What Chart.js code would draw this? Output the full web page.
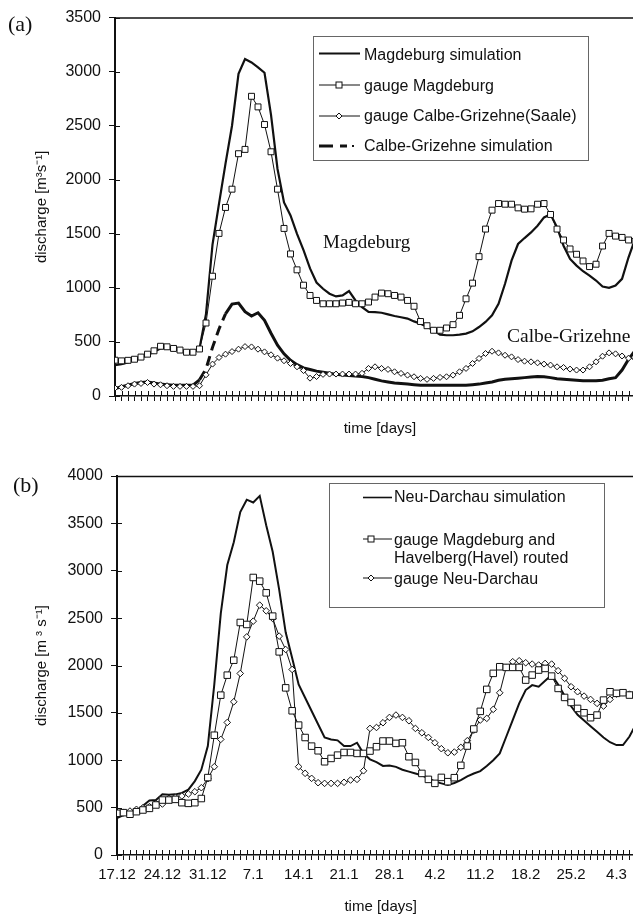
<!DOCTYPE html>
<html><head><meta charset="utf-8">
<script src="https://cdn.jsdelivr.net/npm/chart.js@4/dist/chart.umd.min.js"></script>
<style>
html,body{margin:0;padding:0;background:#fff;overflow:hidden;width:633px;height:914px;position:relative}
.wrap{position:absolute;left:0;width:633px;overflow:hidden}
#wrapA{top:0;height:445px}
#wrapB{top:450px;height:464px}
.lbl{position:absolute;white-space:nowrap;line-height:1;color:#111}
.sans{font-family:"Liberation Sans",Arial,sans-serif;font-size:16px}
.serif{font-family:"Liberation Serif","Times New Roman",serif}
#overlay{position:absolute;left:0;top:0;width:633px;height:914px;pointer-events:none}
</style></head><body>
<div class="wrap" id="wrapA"><canvas id="cA" width="650" height="445"></canvas></div>
<div class="wrap" id="wrapB"><canvas id="cB" width="650" height="464"></canvas></div>

<svg id="overlay" width="633" height="914" xmlns="http://www.w3.org/2000/svg">
  <!-- legend (a) -->
  <rect x="313.5" y="36.5" width="275" height="124" fill="#fff" stroke="#666" stroke-width="1"/>
  <line x1="319" y1="53.5" x2="360" y2="53.5" stroke="#111" stroke-width="2.2"/>
  <line x1="319" y1="85" x2="360" y2="85" stroke="#111" stroke-width="1"/>
  <rect x="336" y="82" width="6" height="6" fill="#fff" stroke="#111" stroke-width="1"/>
  <line x1="319" y1="116" x2="360" y2="116" stroke="#111" stroke-width="1"/>
  <polygon points="339,113 342,116 339,119 336,116" fill="#fff" stroke="#111" stroke-width="1"/>
  <line x1="319" y1="146" x2="333" y2="146" stroke="#111" stroke-width="3"/>
  <line x1="340" y1="146" x2="347" y2="146" stroke="#111" stroke-width="3"/>
  <line x1="352" y1="146" x2="354" y2="146" stroke="#111" stroke-width="2"/>
  <!-- legend (b) -->
  <rect x="329.5" y="483.5" width="275" height="124" fill="#fff" stroke="#666" stroke-width="1"/>
  <line x1="363" y1="497.5" x2="392" y2="497.5" stroke="#111" stroke-width="1.6"/>
  <line x1="363" y1="539" x2="392" y2="539" stroke="#111" stroke-width="1"/>
  <rect x="368" y="536" width="6" height="6" fill="#fff" stroke="#111" stroke-width="1"/>
  <line x1="363" y1="578" x2="392" y2="578" stroke="#111" stroke-width="1"/>
  <polygon points="371,575 374,578 371,581 368,578" fill="#fff" stroke="#111" stroke-width="1"/>
</svg>

<div class="lbl serif" style="left:8px;top:13px;font-size:22px">(a)</div>
<div class="lbl serif" style="left:13px;top:474px;font-size:22px">(b)</div>
<div class="lbl sans" style="left:364px;top:46.5px">Magdeburg simulation</div>
<div class="lbl sans" style="left:364px;top:78px">gauge Magdeburg</div>
<div class="lbl sans" style="left:364px;top:108px">gauge Calbe-Grizehne(Saale)</div>
<div class="lbl sans" style="left:364px;top:138px">Calbe-Grizehne simulation</div>
<div class="lbl sans" style="left:394px;top:489px">Neu-Darchau simulation</div>
<div class="lbl sans" style="left:394px;top:531.5px">gauge Magdeburg and</div>
<div class="lbl sans" style="left:394px;top:550px">Havelberg(Havel) routed</div>
<div class="lbl sans" style="left:394px;top:570.5px">gauge Neu-Darchau</div>
<div class="lbl serif" style="left:323px;top:231.5px;font-size:19px">Magdeburg</div>
<div class="lbl serif" style="left:507px;top:326px;font-size:19.5px">Calbe-Grizehne</div>

<script>
// ---------- data ----------
const weekLabels = ['17.12','24.12','31.12','7.1','14.1','21.1','28.1','4.2','11.2','18.2','25.2','4.3'];
const yTicksA = [0,500,1000,1500,2000,2500,3000,3500];
const yTicksB = [0,500,1000,1500,2000,2500,3000,3500,4000];

// panel (a), daily values from 17.12
const magdeburgSim = [285,295,310,330,350,380,410,440,445,435,420,405,410,440,760,1400,1780,2150,2500,2980,3116,3085,3040,2990,2600,2100,1790,1670,1500,1350,1180,1050,992,946,921,930,970,884,822,777,775,770,755,740,728,716,690,669,640,608,568,562,562,568,577,598,638,685,746,853,1038,1252,1406,1461,1513,1575,1652,1682,1559,1390,1268,1206,1154,1114,1068,1013,1001,1022,1084,1283,1450];
const magdeburgGauge = [331,325,330,340,360,387,418,460,455,440,425,405,405,435,675,1108,1504,1744,1913,2241,2281,2772,2674,2511,2259,1913,1550,1314,1167,1025,930,884,853,853,853,860,866,853,853,869,915,952,946,930,915,884,830,689,650,608,608,629,660,746,899,1044,1289,1544,1719,1780,1774,1774,1740,1728,1731,1774,1780,1679,1544,1443,1360,1311,1249,1197,1219,1387,1504,1479,1467,1443,1430];
const calbeGauge = [74,80,95,110,116,125,110,104,95,89,89,89,89,95,196,295,356,387,411,433,457,454,433,408,381,350,326,301,270,235,165,180,200,203,203,203,203,203,210,255,270,255,246,224,209,193,178,163,154,163,172,178,193,224,255,301,347,393,414,399,377,362,337,322,316,307,295,286,270,264,249,240,240,270,316,368,399,390,370,350,345];
const calbeSim = [70,85,100,115,125,130,120,110,105,100,100,100,100,150,250,450,620,760,850,860,780,740,770,700,580,470,390,330,290,260,245,230,220,210,200,195,190,185,180,170,155,140,130,120,115,110,105,100,100,100,100,100,100,100,100,105,110,120,130,145,155,160,165,170,175,180,178,170,160,155,150,145,140,140,140,145,160,170,240,340,420];

// panel (b)
const neuDarchauSim = [390,420,440,460,520,575,580,640,635,640,655,690,780,900,1150,1800,2550,3060,3300,3620,3750,3720,3790,3480,3200,2800,2350,2080,1800,1660,1520,1380,1240,1220,1210,1150,1150,1185,1070,1010,980,940,945,930,900,880,860,840,810,775,756,738,760,790,830,860,885,940,1000,1072,1248,1424,1600,1741,1793,1776,1840,1899,1800,1680,1570,1480,1420,1360,1300,1240,1190,1160,1160,1250,1380];
const magHavelRouted = [440,447,430,457,475,492,528,580,580,587,552,545,552,596,817,1264,1687,1898,2056,2454,2433,2929,2890,2767,2521,2144,1764,1522,1371,1240,1149,1100,984,1019,1054,1082,1082,1072,1072,1097,1143,1203,1203,1178,1185,1037,977,861,798,756,819,774,816,946,1150,1330,1516,1748,1917,1987,1980,1980,1980,1846,1899,1952,1969,1888,1758,1663,1610,1547,1501,1449,1477,1635,1723,1706,1713,1688,1690];
const neuDarchauGauge = [440,447,464,482,499,510,545,538,598,609,623,644,668,710,805,932,1220,1399,1617,1916,2302,2468,2637,2577,2496,2310,2169,1958,932,862,809,763,756,756,756,767,791,798,889,1336,1346,1396,1452,1477,1452,1417,1336,1290,1241,1185,1122,1079,1086,1136,1206,1318,1424,1442,1537,1712,1980,2040,2050,2029,2015,2005,2022,2015,1945,1864,1776,1723,1677,1642,1600,1572,1642,1698,1712,1698,1690];

const days = magdeburgSim.map((_, i) => i);
const tickDays = Array.from({length: 83}, (_, i) => i);
const DASH_FROM = 13, DASH_TO = 17;

// ---------- style ----------
const INK = '#111';
const FONT = '"Liberation Sans", Arial, sans-serif';
Chart.defaults.font.family = FONT;
Chart.defaults.color = INK;

function series(values) { return values.map((v, i) => ({x: days[i], y: v})); }

const frame = {
  id: 'frame',
  afterDraw(chart) {
    const {ctx, chartArea: a, scales: {x, y}} = chart;
    ctx.save();
    ctx.strokeStyle = INK;
    ctx.lineWidth = 1;
    ctx.beginPath();
    x.ticks.forEach(t => {
      const px = Math.round(x.getPixelForValue(t.value)) + 0.5;
      if (px > a.right) return;
      ctx.moveTo(px, a.bottom); ctx.lineTo(px, a.bottom - 5);
    });
    y.ticks.forEach(t => {
      const py = Math.round(y.getPixelForValue(t.value)) + 0.5;
      ctx.moveTo(a.left, py); ctx.lineTo(a.left + 5, py);
    });
    ctx.stroke();
    ctx.lineWidth = 1.5;
    ctx.beginPath();
    ctx.moveTo(a.left, a.top + 0.5); ctx.lineTo(a.right + 3, a.top + 0.5);
    ctx.stroke();
    ctx.restore();
  }
};

function options(cfg) {
  return {
    responsive: false, animation: false, devicePixelRatio: 1,
    layout: {padding: {top: cfg.top, right: 3, left: 0, bottom: 0}},
    plugins: {legend: {display: false}, tooltip: {enabled: false}},
    scales: {
      x: {
        type: 'linear', min: 0, max: cfg.xMax,
        afterFit: s => { s.height = cfg.xH; },
        afterBuildTicks: s => { s.ticks = tickDays.filter(d => d <= cfg.xMax).map(v => ({value: v})); },
        border: {color: INK, width: 1.5},
        grid: {drawOnChartArea: false, drawTicks: true, tickLength: 5, color: INK, tickColor: INK},
        ticks: {autoSkip: false, maxRotation: 0, minRotation: 0, padding: cfg.xPad, color: INK,
                font: {family: FONT, size: 15},
                callback: v => (cfg.showX && v % 7 === 0 && weekLabels[v / 7]) ? weekLabels[v / 7] : ''},
        title: {display: true, text: 'time [days]', color: INK, font: {family: FONT, size: 15, lineHeight: 1},
                padding: {top: 0, bottom: cfg.xTitlePad}}
      },
      y: {
        min: 0, max: cfg.yMax,
        afterFit: s => { s.width = cfg.left; },
        afterBuildTicks: s => { s.ticks = cfg.yTicks.map(v => ({value: v})); },
        border: {color: INK, width: 2},
        grid: {drawOnChartArea: false, drawTicks: true, tickLength: 6, color: INK, tickColor: INK},
        ticks: {padding: 8, color: INK, font: {family: FONT, size: 16}, callback: v => String(v)},
        title: {display: true, text: cfg.yTitle, color: INK, font: {family: FONT, size: 15, lineHeight: 1},
                padding: {top: cfg.yTitlePad, bottom: 0}}
      }
    }
  };
}

const thin = {borderColor: INK, borderWidth: 1, pointBackgroundColor: '#fff', pointBorderColor: INK, pointBorderWidth: 1, tension: 0, fill: false};

new Chart(document.getElementById('cA'), {
  type: 'line',
  data: {datasets: [
    Object.assign({label: 'gauge Magdeburg', data: series(magdeburgGauge), pointStyle: 'rect', pointRadius: 4.2, order: 1}, thin),
    Object.assign({label: 'gauge Calbe-Grizehne(Saale)', data: series(calbeGauge), pointStyle: 'rectRot', pointRadius: 3, order: 2}, thin),
    {label: 'Magdeburg simulation', data: series(magdeburgSim), borderColor: INK, borderWidth: 2.2, pointRadius: 0, tension: 0, order: 3},
    {label: 'Calbe-Grizehne simulation', data: series(calbeSim), borderColor: INK, borderWidth: 3, pointRadius: 0, tension: 0, order: 4,
     segment: {borderDash: c => (c.p0DataIndex >= DASH_FROM && c.p0DataIndex < DASH_TO) ? [10, 6] : undefined}}
  ]},
  options: options({top: 16, left: 115, xH: 49, xMax: 81.5, yMax: 3500, yTicks: yTicksA, showX: false, xPad: 6,
                    xTitlePad: 9, yTitlePad: 34, yTitle: 'discharge [m³s⁻¹]'}),
  plugins: [frame]
});

new Chart(document.getElementById('cB'), {
  type: 'line',
  data: {datasets: [
    Object.assign({label: 'gauge Magdeburg and Havelberg(Havel) routed', data: series(magHavelRouted), pointStyle: 'rect', pointRadius: 4.6, order: 1}, thin),
    Object.assign({label: 'gauge Neu-Darchau', data: series(neuDarchauGauge), pointStyle: 'rectRot', pointRadius: 3.3, order: 2}, thin),
    {label: 'Neu-Darchau simulation', data: series(neuDarchauSim), borderColor: INK, borderWidth: 2, pointRadius: 0, tension: 0, order: 3}
  ]},
  options: options({top: 26, left: 117, xH: 59, xMax: 81.3, yMax: 4000, yTicks: yTicksB, showX: true, xPad: 6,
                    xTitlePad: 0, yTitlePad: 34, yTitle: 'discharge [m ³ s⁻¹]'}),
  plugins: [frame]
});
</script>
</body></html>
